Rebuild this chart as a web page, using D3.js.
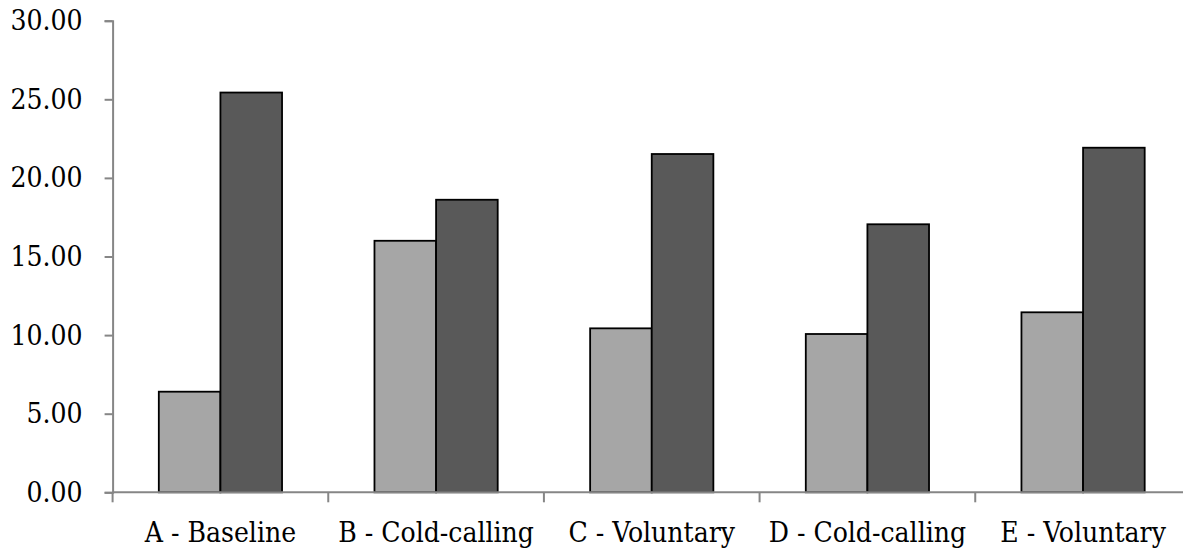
<!DOCTYPE html>
<html>
<head>
<meta charset="utf-8">
<script src="https://cdn.jsdelivr.net/npm/d3@7"></script>
<style>
  html, body { margin: 0; padding: 0; background: #fff; }
  svg { display: block; }
  .lbl { font-stretch: condensed; }
</style>
</head>
<body>
<svg id="chart" width="1183" height="552"></svg>
<script>
// Groups along the x axis
const categories = ["A - Baseline", "B - Cold-calling", "C - Voluntary", "D - Cold-calling", "E - Voluntary"];
// Two series per group (light bar, dark bar)
const seriesLight = [6.40, 16.00, 10.43, 10.07, 11.45];
const seriesDark  = [25.43, 18.61, 21.52, 17.05, 21.92];
const seriesNames = ["light", "dark"];
const seriesColors = ["#a6a6a6", "#595959"];
const yTicks = [0, 5, 10, 15, 20, 25, 30];

const FONT = "'DejaVu Serif Condensed', 'DejaVu Serif', serif";
const FONT_SIZE = 28;

const svg = d3.select("#chart");
const plotLeft = 112.6, plotRight = 1190.9, plotTop = 20.7, plotBottom = 492.3;

const x0 = d3.scaleBand().domain(categories).range([plotLeft, plotRight]).padding(0);
const x1 = d3.scaleBand().domain(seriesNames).range([0, x0.bandwidth()])
  .paddingInner(0).paddingOuter(0.75);
const y = d3.scaleLinear().domain([0, 30]).range([plotBottom, plotTop]);

const rows = categories.map((c, i) => ({ cat: c, values: [seriesLight[i], seriesDark[i]] }));

// Bars
const groups = svg.append("g").selectAll("g").data(rows).join("g")
  .attr("transform", d => `translate(${x0(d.cat)},0)`);
groups.selectAll("rect")
  .data(d => d.values.map((v, j) => ({ key: seriesNames[j], v, j })))
  .join("rect")
  .attr("x", d => x1(d.key))
  .attr("width", x1.bandwidth())
  .attr("y", d => y(d.v))
  .attr("height", d => y(0) - y(d.v))
  .attr("fill", d => seriesColors[d.j])
  .attr("stroke", "#000")
  .attr("stroke-width", 1.8);

// Y axis
const yAxis = svg.append("g").attr("transform", `translate(${plotLeft},0)`)
  .call(d3.axisLeft(y).tickValues(yTicks).tickFormat(d3.format(".2f"))
    .tickSize(8).tickPadding(22));
yAxis.attr("font-family", null).attr("font-size", null);
yAxis.select(".domain").attr("stroke", "#868686").attr("stroke-width", 2);
yAxis.selectAll(".tick line").attr("stroke", "#868686").attr("stroke-width", 2);
yAxis.selectAll(".tick text").classed("lbl", true)
  .attr("font-family", FONT).attr("font-size", FONT_SIZE).attr("fill", "#000");

// X axis with ticks at group boundaries
const xAxis = svg.append("g").attr("transform", `translate(0,${plotBottom})`);
xAxis.append("line").attr("x1", plotLeft).attr("x2", plotRight)
  .attr("stroke", "#868686").attr("stroke-width", 2);
const bounds = categories.map(c => x0(c)).concat([x0(categories[categories.length - 1]) + x0.bandwidth()]);
xAxis.selectAll("line.tk").data(bounds).join("line").attr("class", "tk")
  .attr("x1", d => d).attr("x2", d => d).attr("y1", 0).attr("y2", 10)
  .attr("stroke", "#868686").attr("stroke-width", 2);
xAxis.selectAll("text").data(categories).join("text")
  .attr("class", "lbl")
  .attr("x", d => x0(d) + x0.bandwidth() / 2)
  .attr("y", 49.5)
  .attr("text-anchor", "middle")
  .attr("fill", "#000")
  .attr("font-family", FONT)
  .attr("font-size", FONT_SIZE)
  .text(d => d);
</script>
</body>
</html>
